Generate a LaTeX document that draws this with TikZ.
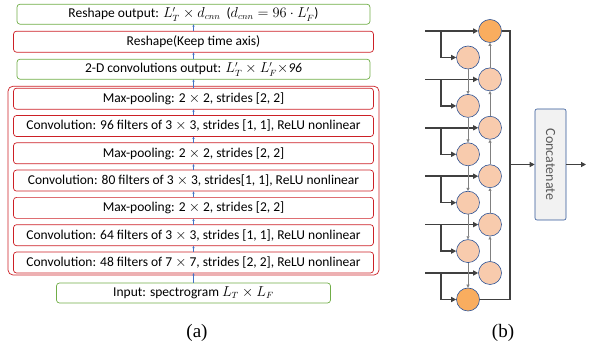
\documentclass[tikz,border=0pt]{standalone}
\usepackage{fontspec}
\setmainfont{Carlito}
\newfontfamily\capfont{Liberation Serif}
\usetikzlibrary{positioning,fit,arrows.meta}
\definecolor{boxgreen}{RGB}{112,173,71}
\definecolor{boxred}{RGB}{204,32,38}
\definecolor{flowblue}{RGB}{68,114,196}
\definecolor{cellfill}{RGB}{248,203,173}
\definecolor{cellhot}{RGB}{249,173,95}
\definecolor{cellline}{RGB}{47,85,151}
\definecolor{wire}{RGB}{64,64,64}

\begin{document}
\begin{tikzpicture}[x=1pt, y=1pt,
    font=\fontsize{13.5}{15}\selectfont,
    green box/.style={draw=boxgreen, line width=0.7pt, rounded corners=3pt, minimum width=353pt, minimum height=20pt, inner sep=0pt, outer sep=0pt},
    red box/.style={draw=boxred, line width=0.7pt, rounded corners=3pt, minimum width=360pt, minimum height=21pt, inner sep=0pt, outer sep=0pt},
    flow/.style={flowblue, line width=0.5pt, -{Latex[length=2.5pt,width=2.5pt]}},
    cell/.style={circle, draw=cellline, line width=0.6pt, fill=cellfill, minimum size=23pt, inner sep=0pt},
    hot cell/.style={cell, fill=cellhot},
    feed/.style={wire, line width=1.5pt, -{Triangle[length=5pt,width=5pt]}},
    link/.style={gray, line width=0.6pt, -{Triangle[length=3pt,width=3pt]}},
  ]
  \useasboundingbox (0,0) rectangle (592,350);

  % (a) CNN stack
  \node[green box, minimum width=274pt] (input) at (193.5,57) {Input: spectrogram $L_T \times L_F$};
  \node[red box, above=10pt of input] (conv48) {Convolution: 48 filters of 7 $\times$ 7, strides [2, 2], ReLU nonlinear};
  \node[red box, above=6.3pt of conv48] (conv64) {Convolution: 64 filters of 3 $\times$ 3, strides [1, 1], ReLU nonlinear};
  \node[red box, above=6.3pt of conv64] (pool1) {Max-pooling: 2 $\times$ 2, strides [2, 2]};
  \node[red box, above=6.3pt of pool1] (conv80) {Convolution: 80 filters of 3 $\times$ 3, strides[1, 1], ReLU nonlinear};
  \node[red box, above=6.3pt of conv80] (pool2) {Max-pooling: 2 $\times$ 2, strides [2, 2]};
  \node[red box, above=6.3pt of pool2] (conv96) {Convolution: 96 filters of 3 $\times$ 3, strides [1, 1], ReLU nonlinear};
  \node[red box, above=6.3pt of conv96] (pool3) {Max-pooling: 2 $\times$ 2, strides [2, 2]};
  \node[draw=boxred, line width=0.7pt, rounded corners=5pt, inner xsep=5.5pt, inner ysep=2pt, fit=(conv48) (pool3)] (cnn) {};
  \node[green box, above=9pt of pool3] (cnnout) {2-D convolutions output: $L'_T \times L'_F \times$\textit{96}};
  \node[red box, above=7pt of cnnout] (reshape) {Reshape(Keep time axis)};
  \node[green box, above=7pt of reshape] (output) {Reshape output: $L'_T \times d_{cnn}$\ \ ($d_{cnn} = 96\cdot L'_F$)};

  \draw[flow] (input) -- (conv48);
  \draw[flow] (conv48) -- (conv64);
  \draw[flow] (conv64) -- (pool1);
  \draw[flow] (pool1) -- (conv80);
  \draw[flow] (conv80) -- (pool2);
  \draw[flow] (pool2) -- (conv96);
  \draw[flow] (conv96) -- (pool3);
  \draw[flow] (pool3) -- (cnnout);
  \draw[flow] (cnnout) -- (reshape);
  \draw[flow] (reshape) -- (output);

  % (b) cells
  \node[hot cell] (r1) at (490,319) {};
  \node[cell] (r2) at (490,270.6) {};
  \node[cell] (r3) at (490,222.2) {};
  \node[cell] (r4) at (490,173.8) {};
  \node[cell] (r5) at (490,125.4) {};
  \node[cell] (r6) at (490,77) {};
  \node[cell] (l1) at (468,292.5) {};
  \node[cell] (l2) at (468,244.1) {};
  \node[cell] (l3) at (468,195.7) {};
  \node[cell] (l4) at (468,147.3) {};
  \node[cell] (l5) at (468,98.9) {};
  \node[hot cell] (l6) at (468,50.5) {};

  \coordinate (in1) at (425,319);
  \coordinate (in2) at (425,270.6);
  \coordinate (in3) at (425,222.2);
  \coordinate (in4) at (425,173.8);
  \coordinate (in5) at (425,125.4);
  \coordinate (in6) at (425,77);
  \draw[feed] (in1) -- (r1);
  \draw[feed] ([xshift=16pt]in1) |- (l1);
  \draw[feed] (in2) -- (r2);
  \draw[feed] ([xshift=16pt]in2) |- (l2);
  \draw[feed] (in3) -- (r3);
  \draw[feed] ([xshift=16pt]in3) |- (l3);
  \draw[feed] (in4) -- (r4);
  \draw[feed] ([xshift=16pt]in4) |- (l4);
  \draw[feed] (in5) -- (r5);
  \draw[feed] ([xshift=16pt]in5) |- (l5);
  \draw[feed] (in6) -- (r6);
  \draw[feed] ([xshift=16pt]in6) |- (l6);

  \draw[link] (l1) -- (l2);
  \draw[link] (l2) -- (l3);
  \draw[link] (l3) -- (l4);
  \draw[link] (l4) -- (l5);
  \draw[link] (l5) -- (l6);
  \draw[link] (r6) -- (r5);
  \draw[link] (r5) -- (r4);
  \draw[link] (r4) -- (r3);
  \draw[link] (r3) -- (r2);
  \draw[link] (r2) -- (r1);

  \node[draw=cellline, line width=0.6pt, fill=black!5, rounded corners=2pt, rotate=-90,
        minimum width=111pt, minimum height=31pt, text=black!65, font=\fontsize{14}{16}\selectfont] (concat) at (550.5,185.5) {Concatenate};
  \coordinate (join) at (510,185.5);
  \coordinate (out) at (586,185.5);
  \draw[wire, line width=1.5pt] (r1) -| (join);
  \draw[wire, line width=1.5pt] (l6) -| (join);
  \draw[feed] (join) -- (concat);
  \draw[feed] (concat) -- (out);

  \node[font=\capfont\fontsize{19}{19}\selectfont] (capa) at (197,17) {(a)};
  \node[font=\capfont\fontsize{19}{19}\selectfont] (capb) at (503,17) {(b)};
\end{tikzpicture}
\end{document}
